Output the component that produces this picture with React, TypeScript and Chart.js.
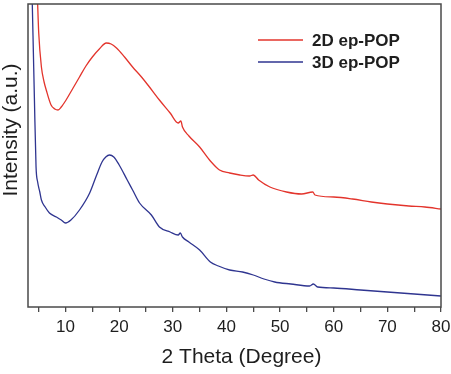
import { useEffect, useRef } from "react";
import { Chart, registerables } from "chart.js";

Chart.register(...registerables);

// Powder XRD patterns, intensity in arbitrary units
const seriesLabels = ["2D ep-POP", "3D ep-POP"];
const seriesColors = ["#e3342c", "#2f3590"];

const twoTheta2D = [
  4.6, 4.8, 5.0, 5.5, 6.0, 6.4, 7.3, 8.0, 8.6, 9.2, 10.1, 11.3, 12.6, 13.8, 15.0, 16.3, 17.6,
  18.5, 19.5, 21.0, 22.5, 24.0, 25.5, 27.5, 29.5, 31.0, 31.5, 31.8, 33.0, 35.0, 37.0, 38.7,
  40.6, 42.5, 44.3, 45.0, 46.0, 48.1, 51.2, 54.0, 56.1, 56.5, 60.0, 63.5, 67.0, 70.0, 74.0,
  77.0, 80.0,
];
const intensity2D = [
  337, 303, 274, 240, 225, 217, 202, 198, 197, 200, 207, 218, 230, 241, 250, 258, 264, 263,
  259, 250, 240, 231, 221, 207, 194, 184, 186, 180, 171, 160, 146, 137, 134, 132, 131, 132,
  127, 120, 115, 113, 115, 112, 110, 108, 105, 103, 101, 100, 98,
];

const twoTheta3D = [
  3.6, 3.8, 4.0, 4.2, 4.5, 4.8, 5.2, 5.5, 6.2, 7.0, 8.3, 9.2, 10.0, 11.0, 12.6, 14.5, 15.8,
  16.8, 17.5, 18.2, 19.0, 20.0, 21.5, 22.5, 23.8, 26.0, 27.5, 29.5, 31.0, 31.4, 31.8, 33.0,
  35.0, 37.0, 38.5, 40.6, 43.0, 45.0, 47.0, 49.0, 52.0, 55.5, 56.2, 57.0, 60.0, 65.0, 70.0,
  75.0, 80.0,
];
const intensity3D = [
  347, 303, 255, 207, 140, 125, 115, 107, 100, 94, 90, 87, 84, 87, 97, 114, 132, 145, 150,
  152, 150, 142, 127, 117, 104, 92, 80, 75, 72, 74, 70, 65, 57, 45, 41, 37, 35, 32, 28, 25,
  23, 21, 23, 20, 19, 17, 15, 13, 11,
];

const xTicks = [5, 10, 15, 20, 25, 30, 35, 40, 45, 50, 55, 60, 65, 70, 75, 80];
const xTitle = "2 Theta (Degree)";
const yTitle = "Intensity (a.u.)";

const FONT = '"Liberation Sans", Arial, Helvetica, sans-serif';
const AXIS_COLOR = "#4a4a4a";
const TEXT_COLOR = "#1e1e1e";

const toPoints = (xs: number[], ys: number[]) => xs.map((x, i) => ({ x, y: ys[i] }));

// Closed box around the plotting area
const framePlugin = {
  id: "frame",
  afterDatasetsDraw(chart: any) {
    const { ctx, chartArea: a } = chart;
    ctx.save();
    ctx.strokeStyle = AXIS_COLOR;
    ctx.lineWidth = 1.5;
    ctx.strokeRect(a.left, a.top, a.right - a.left, a.bottom - a.top);
    ctx.restore();
  },
};

// Axis titles
const titlesPlugin = {
  id: "axisTitles",
  afterDraw(chart: any) {
    const { ctx, chartArea: a } = chart;
    ctx.save();
    ctx.fillStyle = TEXT_COLOR;
    ctx.font = `21px ${FONT}`;
    ctx.textAlign = "center";
    ctx.textBaseline = "middle";
    ctx.fillText(xTitle, (a.left + a.right) / 2 + 7, a.bottom + 50);
    ctx.translate(11, a.top + 126);
    ctx.rotate(-Math.PI / 2);
    ctx.fillText(yTitle, 0, 0);
    ctx.restore();
  },
};

// Legend in the upper right of the plot
const legendPlugin = {
  id: "insetLegend",
  afterDraw(chart: any) {
    const { ctx, chartArea: a } = chart;
    ctx.save();
    ctx.font = `bold 17px ${FONT}`;
    ctx.textAlign = "left";
    ctx.textBaseline = "middle";
    chart.data.datasets.forEach((ds: any, i: number) => {
      const y = a.top + 36 + i * 22;
      ctx.strokeStyle = ds.borderColor;
      ctx.lineWidth = 1.4;
      ctx.beginPath();
      ctx.moveTo(a.right - 183, y);
      ctx.lineTo(a.right - 138, y);
      ctx.stroke();
      ctx.fillStyle = TEXT_COLOR;
      ctx.fillText(ds.label, a.right - 129, y + 1);
    });
    ctx.restore();
  },
};

export default function App() {
  const ref = useRef<HTMLCanvasElement>(null);

  useEffect(() => {
    document.body.style.margin = "0";
    const chart = new Chart(ref.current!, {
      type: "line",
      data: {
        datasets: [
          {
            label: seriesLabels[0],
            data: toPoints(twoTheta2D, intensity2D),
            borderColor: seriesColors[0],
            borderWidth: 1.3,
            pointRadius: 0,
            cubicInterpolationMode: "monotone",
          },
          {
            label: seriesLabels[1],
            data: toPoints(twoTheta3D, intensity3D),
            borderColor: seriesColors[1],
            borderWidth: 1.3,
            pointRadius: 0,
            cubicInterpolationMode: "monotone",
          },
        ],
      },
      options: {
        responsive: false,
        animation: false,
        events: [],
        layout: { padding: { top: 4, right: 10, left: 0, bottom: 0 } },
        plugins: { legend: { display: false }, tooltip: { enabled: false } },
        scales: {
          x: {
            type: "linear",
            min: 3,
            max: 80,
            afterBuildTicks: (s: any) => {
              s.ticks = xTicks.map((v) => ({ value: v }));
            },
            afterFit: (s: any) => {
              s.height = 67;
              s.paddingLeft = 0;
              s.paddingRight = 0;
            },
            ticks: {
              autoSkip: false,
              maxRotation: 0,
              padding: 5,
              color: TEXT_COLOR,
              font: { family: FONT, size: 17 },
              callback: (v: any) => (Number(v) % 10 === 0 ? String(v) : ""),
            },
            grid: {
              display: true,
              drawOnChartArea: false,
              drawTicks: true,
              tickLength: 5,
              color: AXIS_COLOR,
              lineWidth: 1.3,
            },
            border: { display: false },
          },
          y: {
            type: "linear",
            min: 0,
            max: 303,
            afterFit: (s: any) => {
              s.width = 28;
              s.paddingTop = 0;
              s.paddingBottom = 0;
            },
            ticks: { display: false },
            grid: { display: false },
            border: { display: false },
          },
        },
      },
      plugins: [framePlugin, titlesPlugin, legendPlugin],
    });
    return () => chart.destroy();
  }, []);

  return <canvas ref={ref} width={451} height={374} style={{ display: "block" }} />;
}
